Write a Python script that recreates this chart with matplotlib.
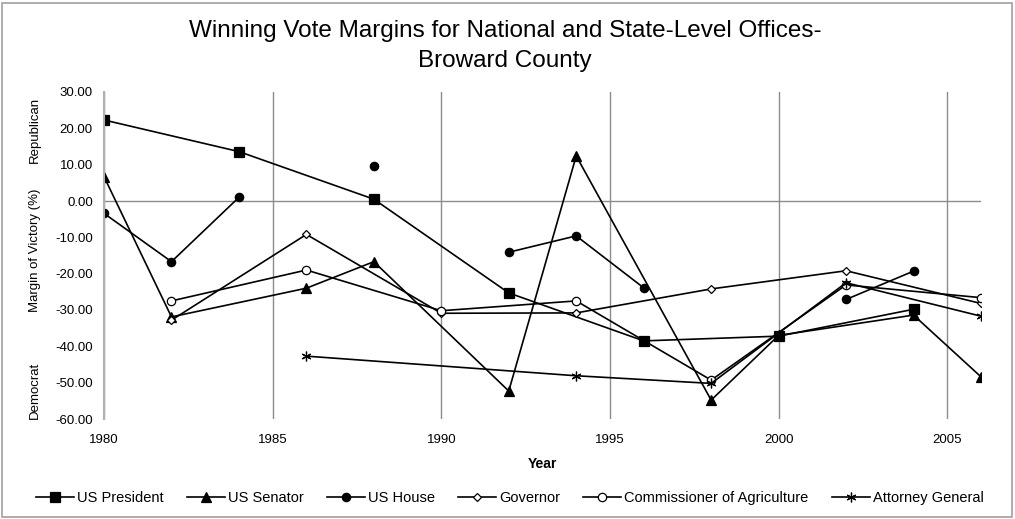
import numpy as np
import matplotlib
matplotlib.use("Agg")
import matplotlib.pyplot as plt
from matplotlib.patches import Rectangle

plt.rcParams['font.family'] = ['Liberation Sans', 'DejaVu Sans']

nan = np.nan
years = [1980, 1982, 1984, 1986, 1988, 1990, 1992, 1994, 1996, 1998, 2000, 2002, 2004, 2006]

# margins of victory (%), NaN = no race / not reported
us_president = [22.3, nan, 13.6, nan, 0.5, nan, -25.3, nan, -38.5, nan, -37.2, nan, -29.8, nan]
us_senator = [6.7, -31.9, nan, -24.0, -16.7, nan, -52.3, 12.4, nan, -54.8, -37.0, nan, -31.4, -48.4]
us_house = [-3.4, -16.7, 1.0, nan, 9.5, nan, -14.1, -9.6, -23.9, nan, nan, -27.1, -19.3, nan]
governor = [nan, -32.8, nan, -9.2, nan, -30.9, nan, -30.8, nan, -24.2, nan, -19.2, nan, -28.2]
commissioner = [nan, -27.5, nan, -19.0, nan, -30.2, nan, -27.5, nan, -49.3, nan, -23.1, nan, -26.6]
attorney_general = [nan, nan, nan, -42.7, nan, nan, nan, -48.1, nan, -50.2, nan, -22.5, nan, -31.7]

series = [
    ("US President", us_president, 's', 'black', 6.5),
    ("US Senator", us_senator, '^', 'black', 6.5),
    ("US House", us_house, 'o', 'black', 6),
    ("Governor", governor, 'D', 'white', 4.5),
    ("Commissioner of Agriculture", commissioner, 'o', 'white', 6),
    ("Attorney General", attorney_general, (6, 2, 0), 'black', 7),
]

W, H = 1015, 519
fig = plt.figure(figsize=(W / 100, H / 100), dpi=100)
ax = fig.add_axes([104 / W, 1 - 419 / H, (981 - 104) / W, (419 - 92) / H])

handles = []
for name, vals, mk, fc, ms in series:
    v = np.array(vals, dtype=float)
    ok = ~np.isnan(v)
    xs = np.array(years)[ok]
    ys = v[ok]
    # US House leaves gaps, the other offices join across missing years
    if name == "US House":
        ax.plot(years, v, color='black', lw=1.2)
    else:
        ax.plot(xs, ys, color='black', lw=1.2)
    ax.plot(xs, ys, ls='none', marker=mk, ms=ms, mfc=fc, mec='black', mew=0.9)
    h, = ax.plot([], [], color='black', lw=1.2, marker=mk, ms=ms, mfc=fc, mec='black', mew=0.9, label=name)
    handles.append(h)

ax.set_xlim(1980, 2006)
ax.set_ylim(-60, 30)
ax.set_xticks([1980, 1985, 1990, 1995, 2000, 2005])
ax.set_yticks(np.arange(-60, 31, 10))
ax.yaxis.set_major_formatter(matplotlib.ticker.FormatStrFormatter('%.2f'))
ax.tick_params(length=0, labelsize=9.5, pad=8)
ax.tick_params(axis='x', pad=11)
for s in ['top', 'right', 'bottom']:
    ax.spines[s].set_visible(False)
ax.spines['left'].set_color('#b0b0b0')
ax.spines['left'].set_linewidth(1.5)
ax.grid(axis='x', color='#8c8c8c', lw=1)
ax.axhline(0, color='#8c8c8c', lw=1, zorder=0)
ax.set_axisbelow(True)

ax.set_xlabel("Year", fontweight='bold', fontsize=10, labelpad=8)

fig.text(505 / W, 1 - 46 / H,
         "Winning Vote Margins for National and State-Level Offices-\nBroward County",
         ha='center', va='center', fontsize=17.5, linespacing=1.45)

fig.text(35 / W, 1 - 130 / H, "Republican", rotation=90, ha='center', va='center', fontsize=9.5)
fig.text(35 / W, 1 - 250 / H, "Margin of Victory (%)", rotation=90, ha='center', va='center', fontsize=9.5)
fig.text(35 / W, 1 - 390 / H, "Democrat", rotation=90, ha='center', va='center', fontsize=9.5)

fig.legend(handles=handles, loc='center', bbox_to_anchor=(510 / W, 1 - 498 / H), ncol=6,
           frameon=False, fontsize=10.5, handlelength=2.6, handletextpad=0.2, columnspacing=1.6)

fig.patches.append(Rectangle((2 / W, 2 / H), 1 - 5 / W, 1 - 5 / H, transform=fig.transFigure,
                             fill=False, ec='#a0a0a0', lw=1.2))

plt.savefig("out.png", dpi=100)
